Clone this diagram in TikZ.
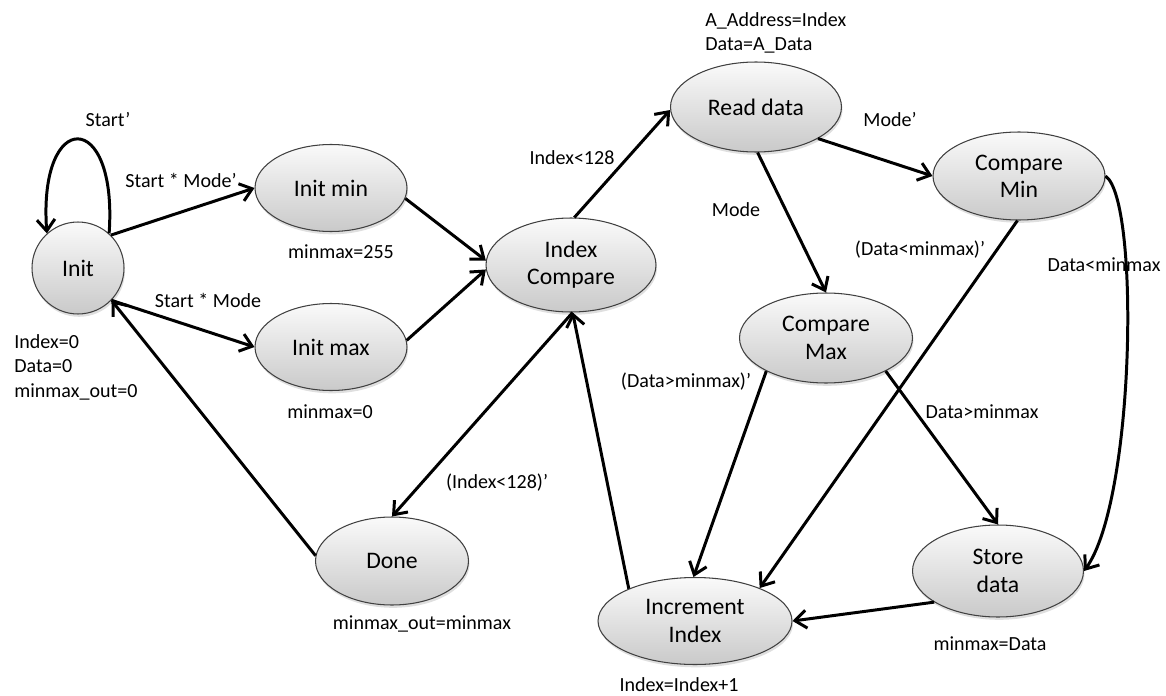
\documentclass[tikz,border=0pt]{standalone}
\usepackage{fontspec}
\setmainfont{Carlito}
\usetikzlibrary{shapes.geometric,arrows.meta,shadows}

\tikzset{
  estado/.style={ellipse, draw=black!75, line width=0.6pt,
    top color=gray!4, bottom color=gray!42,
    drop shadow={shadow xshift=0.6pt, shadow yshift=-1.6pt, opacity=0.25},
    inner sep=0pt, align=center, font=\fontsize{13.5}{15.5}\selectfont},
  trans/.style={line width=1.7pt, -{Straight Barb[length=2.3mm,width=3.6mm]}},
  rotulo/.style={font=\fontsize{11.4}{13.9}\selectfont, inner sep=0pt},
}

\begin{document}
\begin{tikzpicture}[x=0.02cm,y=-0.02cm]
	\useasboundingbox (0,0) rectangle (1166,696);

	% Estados
	\node[estado, circle, minimum size=1.84cm] (init) at (78,268) {Init};
	\node[estado, minimum width=3.04cm, minimum height=1.74cm] (initmin) at (331,188) {Init min};
	\node[estado, minimum width=3.04cm, minimum height=1.74cm] (initmax) at (331,347) {Init max};
	\node[estado, minimum width=3.4cm, minimum height=1.88cm] (indexcmp) at (571,265) {Index\\Compare};
	\node[estado, minimum width=3.42cm, minimum height=1.8cm] (readdata) at (756,107) {Read data};
	\node[estado, minimum width=3.44cm, minimum height=1.76cm] (cmpmin) at (1019,176) {Compare\\Min};
	\node[estado, minimum width=3.46cm, minimum height=1.8cm] (cmpmax) at (826,338) {Compare\\Max};
	\node[estado, minimum width=3.06cm, minimum height=1.76cm] (done) at (392,561) {Done};
	\node[estado, minimum width=3.88cm, minimum height=1.74cm] (incr) at (695,621) {Increment\\Index};
	\node[estado, minimum width=3.42cm, minimum height=1.84cm] (storedata) at (998,571) {Store\\data};

	% Saidas dos estados
	\node[rotulo, align=left, anchor=north west] (initout) at (14,334) {Index=0\\Data=0\\minmax\_out=0};
	\node[rotulo] (minout) at (341,252) {minmax=255};
	\node[rotulo] (maxout) at (330,412) {minmax=0};
	\node[rotulo, align=left, anchor=north west] (readout) at (705,12) {A\_Address=Index\\Data=A\_Data};
	\node[rotulo] (doneout) at (422,624) {minmax\_out=minmax};
	\node[rotulo] (incrout) at (679,685) {Index=Index+1};
	\node[rotulo] (storeout) at (990,644) {minmax=Data};

	% Transicoes
	\draw[trans] (init.48) .. controls (118,108) and (38,108) .. (init.132);
	\draw[trans] (init.45) -- (initmin.west);
	\draw[trans] (init.-44) -- (initmax.west);
	\draw[trans] (done.176) -- (init.-44);
	\draw[trans] (initmin.-8) -- (indexcmp.177);
	\draw[trans] (initmax.5) -- (indexcmp.183);
	\draw[trans] (indexcmp.86) -- (readdata.182);
	\draw[trans] (indexcmp.-88) -- (done.north);
	\draw[trans] (readdata.-27) -- (cmpmin.west);
	\draw[trans] (readdata.-88) -- (cmpmax.north);
	\draw[trans] (cmpmin.-92) -- (incr.27);
	\draw[trans] (cmpmin.east) .. controls (1140,200) and (1135,500) .. (storedata.east);
	\draw[trans] (cmpmax.209) -- (incr.92);
	\draw[trans] (cmpmax.-29) -- (storedata.north);
	\draw[trans] (storedata.206) -- (incr.east);
	\draw[trans] (incr.154) -- (indexcmp.-88);

	% Condicoes
	\node[rotulo] (lstart) at (108,120) {Start’};
	\node[rotulo] (lstartmodeb) at (181,180) {Start * Mode’};
	\node[rotulo] (lstartmode) at (208,300) {Start * Mode};
	\node[rotulo] (lidxlt) at (572,158) {Index<128};
	\node[rotulo] (lidxge) at (497,483) {(Index<128)’};
	\node[rotulo] (lmodeb) at (890,120) {Mode’};
	\node[rotulo] (lmode) at (736,210) {Mode};
	\node[rotulo] (lltb) at (920,250) {(Data<minmax)’};
	\node[rotulo] (llt) at (1104,265) {Data<minmax};
	\node[rotulo] (lgtb) at (686,382) {(Data>minmax)’};
	\node[rotulo] (lgt) at (982,412) {Data>minmax};

\end{tikzpicture}
\end{document}
